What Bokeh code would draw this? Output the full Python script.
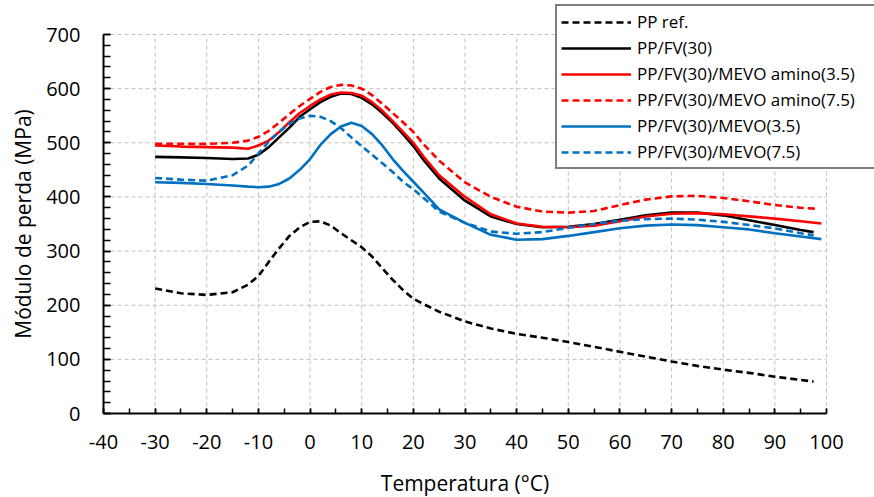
import math
from bokeh.plotting import figure
from bokeh.models import Range1d, SingleIntervalTicker, Legend, LegendItem, Label
from bokeh.embed import file_html
from bokeh.resources import INLINE

temp = [-30, -25, -20, -15, -12, -10, -8, -6, -4, -2, 0, 2, 4, 6, 8, 10, 12, 14, 16,
        18, 20, 22, 25, 30, 35, 40, 45, 50, 55, 60, 65, 70, 75, 80, 85, 90, 95]

pp_ref = [231, 222, 219, 224, 238, 254, 280, 305, 328, 344, 354, 355, 347, 333, 320, 307,
          290, 268, 247, 228, 212, 202, 188, 170, 157, 147, 140, 132, 123, 114, 105, 96,
          88, 81, 75, 68, 62]
pp_fv = [474, 473, 472, 470, 471, 478, 492, 510, 528, 548, 562, 575, 585, 591, 590, 583,
         571, 555, 537, 516, 494, 468, 434, 393, 364, 350, 344, 345, 350, 358, 366, 371,
         371, 366, 357, 348, 339]
amino35 = [495, 493, 492, 491, 489, 495, 504, 520, 538, 555, 568, 580, 589, 593, 592, 587,
           575, 559, 540, 520, 500, 474, 440, 400, 368, 351, 345, 344, 347, 355, 364, 369,
           370, 368, 364, 360, 355]
amino75 = [498, 498, 498, 500, 504, 511, 522, 537, 553, 568, 581, 594, 603, 607, 606, 600,
           588, 572, 555, 538, 520, 497, 467, 427, 400, 382, 373, 371, 374, 385, 395, 401,
           402, 398, 392, 385, 380]
mevo35 = [427, 426, 424, 421, 419, 418, 419, 424, 434, 450, 470, 496, 516, 530, 537, 531,
          516, 495, 470, 448, 428, 408, 377, 352, 330, 321, 322, 328, 335, 342, 347, 349,
          348, 344, 340, 333, 327]
mevo75 = [435, 432, 430, 440, 458, 480, 502, 520, 535, 545, 550, 548, 540, 527, 510, 494,
          478, 462, 446, 428, 414, 398, 373, 352, 336, 332, 335, 343, 350, 356, 359, 360,
          358, 354, 348, 342, 333]

# last measured point of each series (temperature, value)
end_temp = [97.5, 97.5, 99, 98.5, 99, 97.5]
end_val = [59, 335, 351, 378, 322, 329]

labels = ["PP ref.", "PP/FV(30)", "PP/FV(30)/MEVO amino(3.5)",
          "PP/FV(30)/MEVO amino(7.5)", "PP/FV(30)/MEVO(3.5)", "PP/FV(30)/MEVO(7.5)"]
series = [pp_ref, pp_fv, amino35, amino75, mevo35, mevo75]
colors = ["#000000", "#000000", "#FF0000", "#FF0000", "#0070C0", "#0070C0"]
dashes = ["7 4", "solid", "solid", "7 4", "solid", "7 4"]

x_ticks = list(range(-40, 101, 10))
y_ticks = list(range(0, 701, 100))

FONT = "Open Sans"

# the frame fills the whole canvas; both axes sit at fixed locations with bounds
W, H = 874, 497
LEFT = 103                    # space left of the y axis
BOTTOM_PX = 84                # space under the x axis
AX_PX = (723, 379)            # pixel length of the x and y axes
XSPAN = x_ticks[-1] - x_ticks[0]
X_START = x_ticks[0] - XSPAN * LEFT / AX_PX[0]
X_END = x_ticks[0] + XSPAN * (W - LEFT) / AX_PX[0]
Y_END = y_ticks[-1] * (H - BOTTOM_PX) / AX_PX[1]
Y_START = -y_ticks[-1] * BOTTOM_PX / AX_PX[1]

p = figure(width=W, height=H, output_backend="svg", toolbar_location=None,
           x_range=Range1d(X_START, X_END), y_range=Range1d(Y_START, Y_END),
           min_border_left=0, min_border_right=0, min_border_top=0, min_border_bottom=0)
p.outline_line_color = None
p.background_fill_color = "white"
p.border_fill_color = "white"
p.xgrid.visible = False
p.ygrid.visible = False

GRID = dict(line_color="#C0C0C0", line_dash="4 3", line_width=1)
vx = x_ticks[1:]
p.segment(x0=vx, y0=[y_ticks[0]] * len(vx), x1=vx, y1=[y_ticks[-1]] * len(vx), **GRID)
hy = y_ticks[1:]
p.segment(x0=[x_ticks[0]] * len(hy), y0=hy, x1=[x_ticks[-1]] * len(hy), y1=hy, **GRID)

items = []
for lab, ys, c, d, et, ev in zip(labels, series, colors, dashes, end_temp, end_val):
    r = p.line(temp + [et], ys + [ev], line_color=c, line_width=2.6, line_dash=d)
    items.append(LegendItem(label=lab, renderers=[r]))

for ax, ticks, nminor in ((p.xaxis[0], x_ticks, 2), (p.yaxis[0], y_ticks, 5)):
    ax.ticker = SingleIntervalTicker(interval=ticks[1] - ticks[0], num_minor_ticks=nminor)
    ax.bounds = (ticks[0], ticks[-1])
    ax.major_label_overrides = {t: str(t) for t in ticks}
    ax.axis_line_color = "black"
    ax.axis_line_width = 2
    ax.major_tick_line_color = "black"
    ax.minor_tick_line_color = "black"
    ax.major_tick_line_width = 1.5
    ax.minor_tick_line_width = 1.5
    ax.major_tick_out = 0
    ax.minor_tick_out = 0
    ax.major_label_text_font = FONT
    ax.major_label_text_font_size = "20px"
    ax.major_label_text_color = "black"

p.xaxis.fixed_location = y_ticks[0]
p.yaxis.fixed_location = x_ticks[0]
p.xaxis.major_tick_in = 5
p.xaxis.minor_tick_in = 5
p.yaxis.major_tick_in = 7
p.yaxis.minor_tick_in = 7
p.xaxis.major_label_standoff = 21
p.yaxis.major_label_standoff = 23

xt = Label(x=(x_ticks[0] + x_ticks[-1]) / 2, y=y_ticks[0], y_offset=-69,
           text="Temperatura (°C)", text_align="center", text_baseline="middle",
           text_font=FONT, text_font_size="21px", text_color="black")
p.add_layout(xt)
yt = Label(x=x_ticks[0], y=(y_ticks[0] + y_ticks[-1]) / 2, x_offset=-81, angle=math.pi / 2,
           text="Módulo de perda (MPa)", text_align="center", text_baseline="middle",
           text_font=FONT, text_font_size="21px", text_color="black")
p.add_layout(yt)

legend = Legend(items=items, location=(555, 328))
legend.label_text_font = FONT
legend.label_text_font_size = "17px"
legend.label_text_color = "black"
legend.glyph_width = 70
legend.glyph_height = 20
legend.label_height = 20
legend.label_width = 270
legend.label_standoff = 6
legend.spacing = 3
legend.padding = 4
legend.border_line_color = "black"
legend.border_line_width = 2
legend.background_fill_color = "white"
legend.background_fill_alpha = 1
p.add_layout(legend, "center")

open("out.html", "w").write(file_html(p, INLINE))
